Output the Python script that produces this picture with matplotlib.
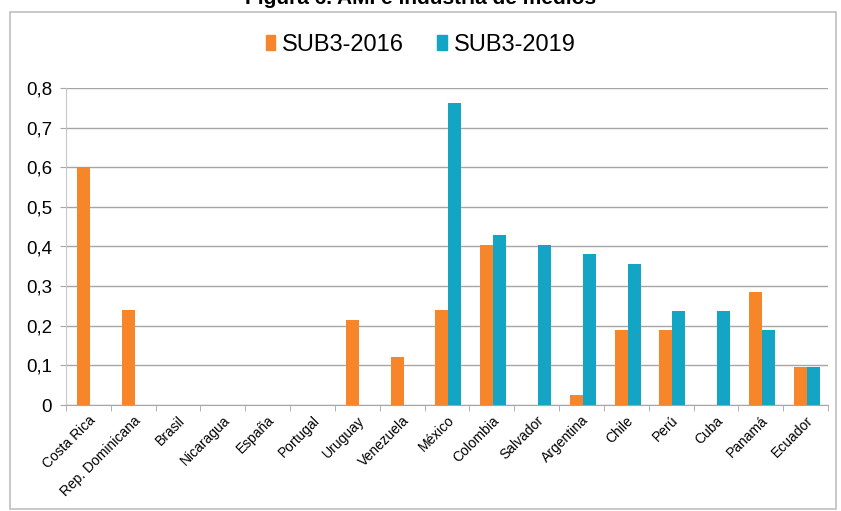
import numpy as np
import matplotlib
matplotlib.use("Agg")
import matplotlib.pyplot as plt
from matplotlib.patches import Rectangle, Patch

plt.rcParams['font.family'] = ['Liberation Sans', 'DejaVu Sans']

# data
countries = ['Costa Rica', 'Rep. Dominicana', 'Brasil', 'Nicaragua', 'España',
             'Portugal', 'Uruguay', 'Venezuela', 'México', 'Colombia', 'Salvador',
             'Argentina', 'Chile', 'Perú', 'Cuba', 'Panamá', 'Ecuador']
sub3_2016 = [0.60, 0.24, 0, 0, 0, 0, 0.215, 0.12, 0.24, 0.405, 0,
             0.025, 0.19, 0.19, 0, 0.285, 0.095]
sub3_2019 = [0, 0, 0, 0, 0, 0, 0, 0, 0.762, 0.43, 0.405,
             0.382, 0.357, 0.238, 0.238, 0.19, 0.095]
yticks = [0, 0.1, 0.2, 0.3, 0.4, 0.5, 0.6, 0.7, 0.8]
ytick_labels = ['0', '0,1', '0,2', '0,3', '0,4', '0,5', '0,6', '0,7', '0,8']

orange = '#F7862B'
teal = '#14A5C4'
grid_col = '#A6A6A6'

W, H = 841, 511
fig = plt.figure(figsize=(W / 100, H / 100), dpi=100)

# outer chart border
fig.patches.append(Rectangle((10 / W, 0.004), 826 / W, 1 - 12 / H - 0.004,
                             transform=fig.transFigure, fill=False,
                             edgecolor='#BFBFBF', linewidth=1.2))

# title (only its lower part shows in the source)
fig.text(0.5, 1 - 4 / H, 'Figura 6. AMI e industria de medios', ha='center',
         va='baseline', fontsize=15, fontweight='bold')

ax = fig.add_axes([66 / W, 1 - 405 / H, (828 - 66) / W, (405 - 88) / H])

x = np.arange(len(countries))
bw = 0.29
ax.bar(x - bw / 2 + 0.03, sub3_2016, bw, color=orange, zorder=3)
ax.bar(x + bw / 2 + 0.03, sub3_2019, bw, color=teal, zorder=3)

ax.set_xlim(-0.5, len(countries) - 0.5)
ax.set_ylim(0, 0.8)
ax.set_yticks(yticks)
ax.set_yticklabels(ytick_labels, fontsize=13.5)
ax.yaxis.grid(True, color=grid_col, linewidth=1, zorder=0)
ax.tick_params(axis='y', length=4, color=grid_col, pad=6)

ax.set_xticks(x)
ax.set_xticklabels(countries, rotation=45, ha='right', rotation_mode='anchor',
                   fontsize=10)
ax.set_xticks(np.arange(-0.5, len(countries)), minor=True)
ax.tick_params(axis='x', which='major', length=0, pad=6)
ax.tick_params(axis='x', which='minor', length=4, color=grid_col)

for side in ['top', 'right']:
    ax.spines[side].set_visible(False)
ax.spines['left'].set_color('#C8C8C8')
ax.spines['bottom'].set_color(grid_col)

handles = [Patch(color=orange, label='SUB3-2016'),
           Patch(color=teal, label='SUB3-2019')]
fig.legend(handles=handles, loc='center', bbox_to_anchor=(0.5, 1 - 45 / H),
           ncol=2, frameon=False, fontsize=17, handlelength=0.4,
           handleheight=0.6, handletextpad=0.3, columnspacing=1.4)

fig.savefig('out.png', dpi=100)
